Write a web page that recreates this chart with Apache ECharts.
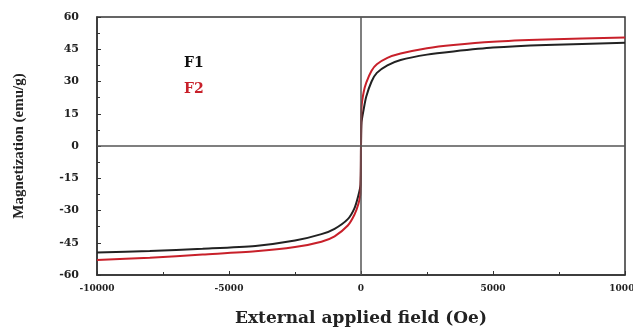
<!DOCTYPE html>
<html>
<head>
<meta charset="utf-8">
<script src="https://cdn.jsdelivr.net/npm/echarts@6/dist/echarts.min.js"></script>
<style>
  html, body { margin: 0; padding: 0; background: #fff; }
  #chart { width: 633px; height: 327px; }
</style>
</head>
<body>
<div id="chart"></div>
<script>
// applied field (Oe) and magnetization (emu/g)
const fieldF1 = [-10000, -8000, -6000, -4000, -2500, -1500, -1000, -500, -250, -100, -20, 0, 20, 100, 200, 400, 600, 1000, 1500, 2500, 3500, 5000, 7000, 10000];
const magF1 = [-49.5, -48.8, -47.8, -46.5, -44, -41, -38.5, -34, -29, -23, -18, 0, 11, 17, 23, 30, 34, 37.5, 40, 42.5, 44, 45.8, 47, 48];

const fieldF2 = [-10000, -8000, -6000, -4000, -2500, -1500, -1000, -500, -250, -100, -20, 0, 20, 100, 200, 400, 600, 1000, 1500, 2500, 3500, 5000, 7000, 10000];
const magF2 = [-53, -52, -50.5, -49, -47, -44.5, -42, -37, -32, -27, -22, 0, 18, 25, 29.5, 35, 38, 41, 43, 45.5, 47, 48.5, 49.5, 50.5];

const seriesNames = ['F1', 'F2'];
const seriesColors = ['#222', '#c8202a'];

const serif = 'Liberation Serif';
const wideSerif = 'DejaVu Serif';

const chart = echarts.init(document.getElementById('chart'));

function pairs(xs, ys) {
    return xs.map((x, i) => [x, ys[i]]);
}

const option = {
    animation: false,
    grid: {
        left: 97,
        right: 8,
        top: 17,
        bottom: 52,
        outerBoundsMode: 'none',
        containLabel: false,
        show: true,
        borderColor: '#333',
        borderWidth: 1.5
    },
    legend: {
        orient: 'vertical',
        left: 174,
        top: 51,
        icon: 'none',
        itemGap: 12,
        itemWidth: 0,
        textStyle: { fontFamily: wideSerif, fontWeight: 'bold', fontSize: 14 },
        data: [
            { name: 'F1', textStyle: { color: '#111' } },
            { name: 'F2', textStyle: { color: '#c8202a' } }
        ]
    },
    xAxis: {
        type: 'value',
        min: -10000,
        max: 10000,
        interval: 5000,
        name: 'External applied field (Oe)',
        nameLocation: 'middle',
        nameGap: 35,
        nameTextStyle: { fontFamily: wideSerif, fontWeight: 'bold', fontSize: 17, color: '#222' },
        axisLine: { onZero: false, lineStyle: { color: '#333', width: 1.5 } },
        axisTick: { inside: true, length: 4, lineStyle: { color: '#333' } },
        minorTick: { show: true, splitNumber: 2, length: 3, lineStyle: { color: '#333' } },
        splitLine: { show: false },
        axisLabel: {
            fontFamily: wideSerif, fontWeight: 'bold', fontSize: 9, color: '#222', margin: 9,
            formatter: v => String(v)
        }
    },
    yAxis: {
        type: 'value',
        min: -60,
        max: 60,
        interval: 15,
        name: 'Magnetization (emu/g)',
        nameLocation: 'middle',
        nameGap: 70,
        nameTextStyle: { fontFamily: serif, fontWeight: 'bold', fontSize: 15, color: '#222' },
        axisLine: { onZero: false, lineStyle: { color: '#333', width: 1.5 } },
        axisTick: { inside: true, length: 4, lineStyle: { color: '#333' } },
        minorTick: { show: true, splitNumber: 2, length: 3, lineStyle: { color: '#333' } },
        splitLine: { show: false },
        axisLabel: { fontFamily: wideSerif, fontWeight: 'bold', fontSize: 11, color: '#222', margin: 18 }
    },
    series: [
        {
            name: seriesNames[0],
            type: 'line',
            smooth: 0.25,
            showSymbol: false,
            color: seriesColors[0],
            lineStyle: { width: 2 },
            data: pairs(fieldF1, magF1),
            z: 3,
            markLine: {
                silent: true,
                symbol: 'none',
                label: { show: false },
                lineStyle: { color: '#555', width: 1.5, type: 'solid' },
                data: [{ yAxis: 0 }, { xAxis: 0 }]
            }
        },
        {
            name: seriesNames[1],
            type: 'line',
            smooth: 0.25,
            showSymbol: false,
            color: seriesColors[1],
            lineStyle: { width: 2 },
            data: pairs(fieldF2, magF2),
            z: 4
        }
    ]
};

chart.setOption(option);
</script>
</body>
</html>
